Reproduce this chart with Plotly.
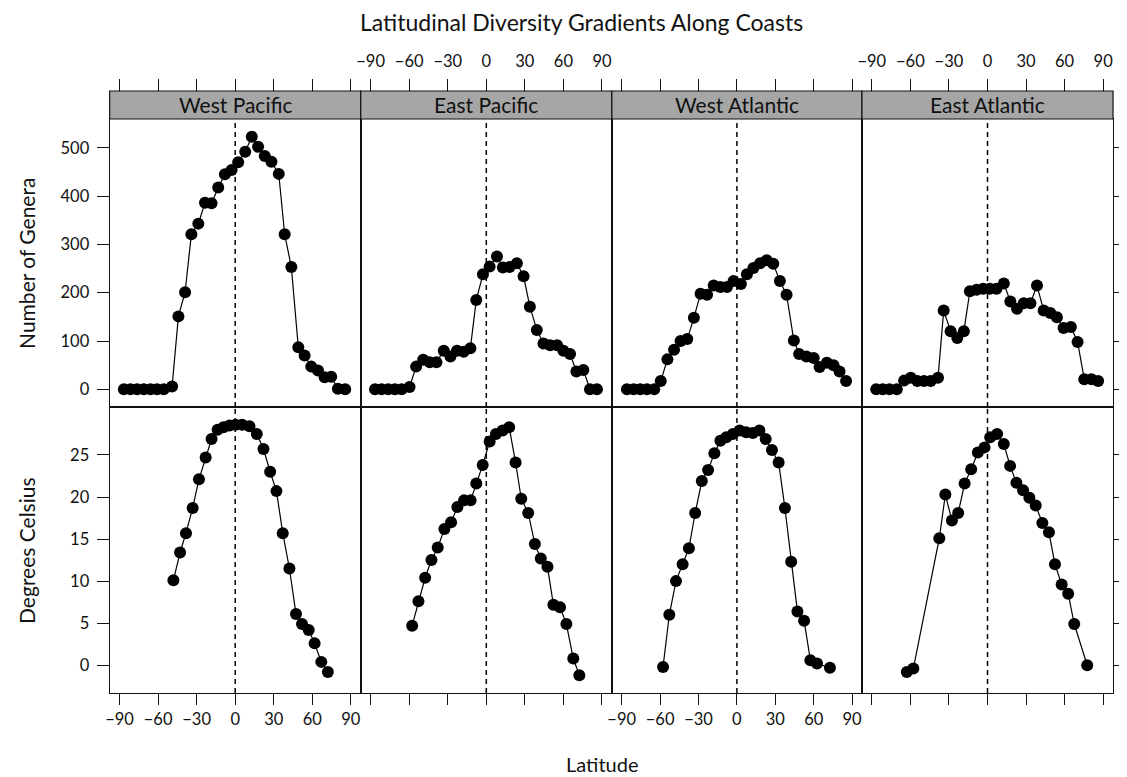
import plotly.graph_objects as go

# ---------------- data ----------------
regions = ["West Pacific", "East Pacific", "West Atlantic", "East Atlantic"]

wp_gen_lat = [-86.6,-81.5,-76.3,-71.1,-65.9,-60.8,-55.6,-49.1,-44.2,-39.0,-34.1,-28.7,-23.5,-18.4,-13.2,-8.0,-2.8,2.3,7.8,12.9,17.8,23.0,28.2,33.9,38.5,43.7,49.1,54.0,59.2,64.4,69.6,74.7,79.9,85.6]
wp_gen = [0,0,0,0,0,0,0,6,151,201,321,343,386,385,418,445,454,470,492,523,502,483,471,446,321,253,87,70,47,39,25,26,1,0]

ep_gen_lat = [-86.6,-81.5,-76.3,-71.1,-65.9,-59.7,-54.6,-49.1,-44.0,-38.8,-33.1,-27.9,-22.8,-17.6,-12.4,-7.8,-2.6,2.6,8.3,12.9,18.1,23.8,29.0,33.9,39.3,44.5,49.7,55.1,60.0,65.2,70.1,75.5,80.7,86.1]
ep_gen = [0,0,0,0,0,5,47,61,56,56,80,68,80,78,85,185,238,254,275,252,253,261,234,171,123,95,91,91,80,73,37,40,0,0]

wa_gen_lat = [-85.9,-80.7,-75.5,-70.3,-64.6,-59.5,-54.3,-49.1,-44.0,-38.8,-33.6,-28.4,-23.3,-18.1,-12.9,-7.8,-2.6,3.1,7.8,12.9,18.1,23.3,28.4,33.6,38.8,44.5,48.6,54.3,60.0,64.6,70.3,75.5,80.2,85.3]
wa_gen = [0,0,0,0,0,17,62,82,100,104,148,198,196,215,212,212,224,218,238,251,261,267,260,224,196,101,73,68,65,46,55,50,37,17]

ea_gen_lat = [-86.6,-81.5,-76.3,-70.6,-64.9,-59.7,-54.6,-49.4,-44.2,-38.5,-34.1,-28.7,-23.5,-18.4,-13.7,-8.5,-3.4,1.8,7.0,12.7,17.8,23.0,28.2,33.4,38.5,43.7,48.9,54.0,59.2,64.9,70.1,75.3,80.9,86.1]
ea_gen = [0,0,0,0,18,24,17,17,17,24,163,120,106,120,203,206,208,208,208,219,182,167,178,178,215,163,158,149,127,129,98,21,21,17]

wp_temp_lat = [-48.1,-42.9,-38.3,-33.1,-28.2,-23.0,-18.4,-13.7,-9.1,-4.4,0.3,5.4,11.1,16.8,22.0,27.2,32.1,37.0,42.2,47.3,52.0,57.2,61.8,67.0,72.1]
wp_temp = [10.1,13.4,15.7,18.7,22.1,24.7,26.9,28.0,28.3,28.5,28.6,28.6,28.4,27.5,25.7,23.0,20.7,15.7,11.5,6.1,4.9,4.2,2.6,0.4,-0.8]

ep_temp_lat = [-57.7,-52.8,-47.6,-42.7,-37.8,-32.6,-27.4,-22.5,-17.3,-12.2,-7.8,-2.8,2.6,7.5,12.7,17.8,22.8,27.2,32.6,37.8,42.4,47.6,52.2,57.4,62.3,67.7,72.4]
ep_temp = [4.7,7.6,10.4,12.5,14.0,16.2,17.0,18.8,19.6,19.6,21.6,23.8,26.6,27.5,27.9,28.3,24.1,19.8,18.1,14.4,12.7,11.7,7.2,6.9,4.9,0.8,-1.2]

wa_temp_lat = [-57.7,-52.8,-47.6,-42.4,-37.5,-32.6,-27.4,-22.5,-17.6,-12.9,-8.3,-3.1,2.1,7.2,12.4,17.6,22.5,27.4,32.6,37.5,42.4,47.3,52.5,57.4,62.6,72.7]
wa_temp = [-0.2,6.0,10.0,12.0,13.9,18.1,21.9,23.2,25.2,26.7,27.1,27.5,27.9,27.7,27.6,27.9,26.9,25.6,24.1,18.7,12.3,6.4,5.3,0.6,0.2,-0.3]

ea_temp_lat = [-62.8,-57.7,-37.5,-32.8,-27.7,-22.8,-17.8,-12.7,-7.5,-2.3,2.1,7.5,12.7,17.6,22.5,27.7,32.6,37.5,42.7,47.8,52.5,57.7,62.8,67.5,77.6]
ea_temp = [-0.8,-0.4,15.1,20.3,17.2,18.1,21.6,23.3,25.3,25.9,27.1,27.5,26.3,23.7,21.7,20.8,19.9,19.0,16.9,15.8,12.0,9.6,8.5,4.9,0.0]

lat_ticks = [-90, -60, -30, 0, 30, 60, 90]
lat_tick_text = ["\u221290", "\u221260", "\u221230", "0", "30", "60", "90"]
gen_ticks = [0, 100, 200, 300, 400, 500]
temp_ticks = [0, 5, 10, 15, 20, 25]

genera = [(wp_gen_lat, wp_gen), (ep_gen_lat, ep_gen), (wa_gen_lat, wa_gen), (ea_gen_lat, ea_gen)]
temps = [(wp_temp_lat, wp_temp), (ep_temp_lat, ep_temp), (wa_temp_lat, wa_temp), (ea_temp_lat, ea_temp)]

# ---------------- layout geometry ----------------
# the page body has an 8px margin, so the figure is made 8px smaller and
# all window-pixel positions are shifted by that offset
OFF = 8
W, H = 1127 - OFF, 777 - OFF
col_px = [(106, 358), (358, 610), (610, 861), (861, 1113)]
top_row_px = (119, 407)
bot_row_px = (407, 693)
strip_px = (91, 119)

def px_x(v):
    return (v - OFF) / W

def px_y(v):
    return 1 - (v - OFF) / H

XR = [-97.7, 97.7]
GEN_R = [-36.6, 559.6]
TEMP_R = [-3.3, 30.7]

FONT = "Lato, Open Sans, sans-serif"
TICKFONT = dict(family=FONT, size=16.5, color="#111")
LINEC = "#111"
LW = 1.2

fig = go.Figure()
layout = dict(
    width=W, height=H, autosize=False,
    margin=dict(l=0, r=0, t=0, b=0),
    paper_bgcolor="white", plot_bgcolor="white",
    showlegend=False,
    font=dict(family=FONT, color="#111"),
)

marker = dict(color="black", size=12)
shapes = []
annotations = []

for i in range(4):
    xd = [px_x(col_px[i][0]), px_x(col_px[i][1])]
    for r, (rowpx, data, yr, yt) in enumerate([
        (top_row_px, genera, GEN_R, gen_ticks),
        (bot_row_px, temps, TEMP_R, temp_ticks),
    ]):
        n = r * 4 + i + 1
        xa = "x" if n == 1 else f"x{n}"
        ya = "y" if n == 1 else f"y{n}"
        lat, val = data[i]
        fig.add_trace(go.Scatter(
            x=lat, y=val, xaxis=xa, yaxis=ya, mode="lines+markers",
            line=dict(color="black", width=1.2), marker=marker,
            hoverinfo="skip", cliponaxis=False,
        ))
        xkey = "xaxis" if n == 1 else f"xaxis{n}"
        ykey = "yaxis" if n == 1 else f"yaxis{n}"
        bottom = (r == 1)
        layout[xkey] = dict(
            domain=xd, anchor=ya, range=XR,
            showgrid=False, zeroline=False,
            showline=True, mirror=True, linecolor=LINEC, linewidth=LW,
            ticks="outside" if bottom else "", ticklen=11, tickwidth=1.4, tickcolor=LINEC,
            tickvals=lat_ticks, ticktext=lat_tick_text,
            showticklabels=bottom and i in (0, 2),
            tickfont=TICKFONT,
        )
        yd = [px_y(rowpx[1]), px_y(rowpx[0])]
        ycfg = dict(
            domain=yd, anchor=xa, range=yr,
            showgrid=False, zeroline=False,
            showline=True, mirror=True, linecolor=LINEC, linewidth=LW,
            tickvals=yt, tickfont=TICKFONT,
            ticklen=12, tickwidth=1.4, tickcolor=LINEC,
        )
        if i == 0:
            ycfg.update(ticks="outside", showticklabels=True, side="left",
                        ticklabelstandoff=4)
        elif i == 3:
            ycfg.update(ticks="outside", showticklabels=False, side="right")
        else:
            ycfg.update(ticks="", showticklabels=False)
        layout[ykey] = ycfg
        # dashed reference line at latitude 0
        shapes.append(dict(
            type="line", xref=xa, yref=f"{ya} domain", x0=0, x1=0, y0=0, y1=1,
            line=dict(color="black", width=1.5, dash="5px,4px"), layer="below",
        ))

    # top axis above strips
    n = 9 + i
    base = "x" if i == 0 else f"x{i + 1}"
    ya = "y" if i == 0 else f"y{i + 1}"
    fig.add_trace(go.Scatter(x=[None], y=[None], xaxis=f"x{n}", yaxis=ya,
                             mode="markers", hoverinfo="skip"))
    layout[f"xaxis{n}"] = dict(
        domain=xd, anchor="free", position=px_y(strip_px[0]), overlaying=base,
        side="top", range=XR, showgrid=False, zeroline=False, showline=False,
        ticks="outside", ticklen=12, tickwidth=1.4, tickcolor=LINEC,
        tickvals=lat_ticks, ticktext=lat_tick_text, ticklabelstandoff=5,
        showticklabels=i in (1, 3), tickfont=TICKFONT,
    )

    # strip
    shapes.append(dict(
        type="rect", xref="paper", yref="paper",
        x0=xd[0], x1=xd[1], y0=px_y(strip_px[1]), y1=px_y(strip_px[0]),
        fillcolor="#A6A6A6", line=dict(color=LINEC, width=LW), layer="above",
    ))
    annotations.append(dict(
        text=regions[i], xref="paper", yref="paper",
        x=(xd[0] + xd[1]) / 2, y=px_y((strip_px[0] + strip_px[1]) / 2),
        showarrow=False, xanchor="center", yanchor="middle",
        font=dict(family=FONT, size=21, color="#111"),
    ))

annotations += [
    dict(text="Latitudinal Diversity Gradients Along Coasts", xref="paper", yref="paper",
         x=px_x(580), y=px_y(22), showarrow=False, xanchor="center", yanchor="middle",
         font=dict(family=FONT, size=23, color="#111")),
    dict(text="Latitude", xref="paper", yref="paper",
         x=px_x(600), y=px_y(764), showarrow=False, xanchor="center", yanchor="middle",
         font=dict(family=FONT, size=20, color="#111")),
    dict(text="Number of Genera", xref="paper", yref="paper", textangle=-90,
         x=px_x(22), y=px_y(263), showarrow=False, xanchor="center", yanchor="middle",
         font=dict(family=FONT, size=21, color="#111")),
    dict(text="Degrees Celsius", xref="paper", yref="paper", textangle=-90,
         x=px_x(22), y=px_y(550), showarrow=False, xanchor="center", yanchor="middle",
         font=dict(family=FONT, size=21, color="#111")),
]

layout["shapes"] = shapes
layout["annotations"] = annotations
fig.update_layout(**layout)
fig.write_html("out.html")
